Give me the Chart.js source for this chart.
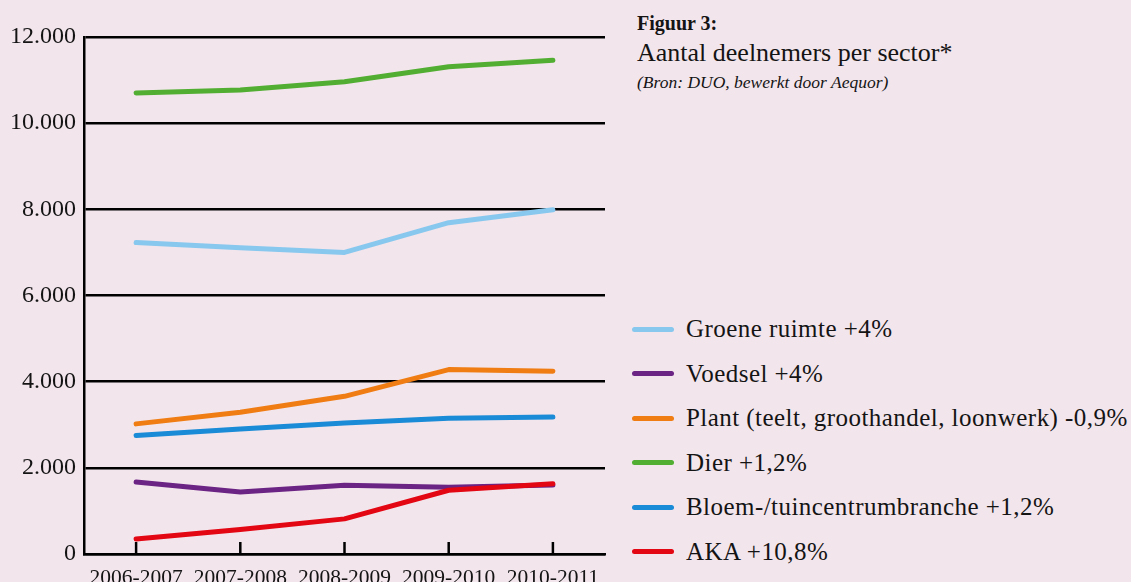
<!DOCTYPE html>
<html lang="nl">
<head>
<meta charset="utf-8">
<title>Figuur 3: Aantal deelnemers per sector</title>
<script src="https://cdn.jsdelivr.net/npm/chart.js@4/dist/chart.umd.min.js"></script>
<style>
  html, body {
    margin: 0;
    padding: 0;
    width: 1131px;
    height: 582px;
    overflow: hidden;
    background: #f3e5ec;
    font-family: "Liberation Serif", "Times New Roman", serif;
    color: #141414;
  }
  #grafiek-wrap {
    position: absolute;
    left: 0;
    top: 0;
    width: 620px;
    height: 582px;
  }
  #titel {
    position: absolute;
    left: 637px;
    top: 9px;
  }
  #titel .kop { font-weight: bold; font-size: 20px; line-height: 28px; }
  #titel .sub { font-size: 26px; line-height: 32px; }
  #titel .bron { font-style: italic; font-size: 17.5px; line-height: 26px; }
  #legenda {
    position: absolute;
    left: 632px;
    top: 307px;
  }
  .leg-item {
    display: flex;
    align-items: center;
    height: 44.5px;
    font-size: 25px;
    letter-spacing: 0.45px;
    white-space: nowrap;
  }
  .leg-lijn {
    width: 42px;
    height: 5px;
    border-radius: 3px;
    margin-right: 12px;
  }
</style>
</head>
<body>
<div id="grafiek-wrap"><canvas id="chart-deelnemers"></canvas></div>
<div id="titel">
  <div class="kop">Figuur 3:</div>
  <div class="sub">Aantal deelnemers per sector*</div>
  <div class="bron">(Bron: DUO, bewerkt door Aequor)</div>
</div>
<div id="legenda"></div>

<script>
// Data
const schooljaren = ["2006-2007", "2007-2008", "2008-2009", "2009-2010", "2010-2011"];
const yTicks = [0, 2000, 4000, 6000, 8000, 10000, 12000];

const groeneRuimte = [7230, 7110, 7000, 7690, 7990];
const voedsel = [1670, 1440, 1595, 1550, 1600];
const plant = [3020, 3290, 3660, 4280, 4240];
const dier = [10700, 10770, 10960, 11310, 11460];
const bloem = [2750, 2900, 3040, 3150, 3180];
const aka = [350, 570, 815, 1480, 1630];

const sectorLabels = [
  "Groene ruimte +4%",
  "Voedsel +4%",
  "Plant (teelt, groothandel, loonwerk) -0,9%",
  "Dier +1,2%",
  "Bloem-/tuincentrumbranche +1,2%",
  "AKA +10,8%",
];
const sectorKleuren = ["#88c8ee", "#6b2384", "#ef7d14", "#52ae32", "#1a8bd6", "#e30613"];

const GrafiekController = {
  chart: null,

  init() {
    this.renderizarLegenda();
    this.renderizarGrafiek();
  },

  /**
   * Legenda rechts van de grafiek
   */
  renderizarLegenda() {
    const container = document.querySelector("#legenda");
    container.innerHTML = sectorLabels
      .map(
        (label, i) => `
        <div class="leg-item">
          <div class="leg-lijn" style="background:${sectorKleuren[i]}"></div>
          <span>${label}</span>
        </div>`,
      )
      .join("");
  },

  /**
   * Lijngrafiek met de zes sectoren
   */
  renderizarGrafiek() {
    const ctx = document.querySelector("#chart-deelnemers");
    const reeksen = [groeneRuimte, voedsel, plant, dier, bloem, aka];

    // kleine streepjes op de x-as, naar binnen gericht
    const asStreepjes = {
      id: "asStreepjes",
      beforeDatasetsDraw(chart) {
        const { ctx, scales } = chart;
        const bodem = chart.chartArea.bottom;
        ctx.save();
        ctx.strokeStyle = "#000";
        ctx.lineWidth = 2.5;
        schooljaren.forEach((_, i) => {
          const x = scales.x.getPixelForValue(i);
          ctx.beginPath();
          ctx.moveTo(x, bodem);
          ctx.lineTo(x, bodem - 12);
          ctx.stroke();
        });
        ctx.restore();
      },
    };

    this.chart = new Chart(ctx, {
      type: "line",
      data: {
        labels: schooljaren,
        datasets: reeksen.map((data, i) => ({
          label: sectorLabels[i],
          data,
          borderColor: sectorKleuren[i],
          backgroundColor: sectorKleuren[i],
          borderWidth: 5,
          borderCapStyle: "round",
          borderJoinStyle: "round",
          pointRadius: 0,
          tension: 0,
          order: i === 5 ? 0 : 1,
        })),
      },
      options: {
        responsive: true,
        maintainAspectRatio: false,
        animation: false,
        layout: { padding: { top: 37, right: 15, left: 0, bottom: 0 } },
        plugins: {
          legend: { display: false },
          tooltip: { enabled: false },
        },
        scales: {
          x: {
            offset: true,
            grid: { display: false, drawTicks: false },
            border: { display: true, color: "#000", width: 2.5 },
            ticks: {
              color: "#141414",
              padding: 11,
              font: { family: "Liberation Serif", size: 21.5 },
              maxRotation: 0,
              autoSkip: false,
            },
            afterFit(scale) {
              scale.height = 28;
            },
          },
          y: {
            min: 0,
            max: 12000,
            afterBuildTicks(scale) {
              scale.ticks = yTicks.map((v) => ({ value: v }));
            },
            grid: { color: "#000", lineWidth: 2.5, drawTicks: false },
            border: { display: true, color: "#000", width: 2.5 },
            ticks: {
              color: "#141414",
              padding: 8,
              font: { family: "Liberation Serif", size: 24 },
              callback: (v) => (v === 0 ? "0" : v.toLocaleString("nl-NL")),
            },
            afterFit(scale) {
              scale.width = 84;
            },
          },
        },
      },
      plugins: [asStreepjes],
    });
  },
};

if (document.readyState === "loading") {
  document.addEventListener("DOMContentLoaded", () => GrafiekController.init());
} else {
  GrafiekController.init();
}
</script>
</body>
</html>
